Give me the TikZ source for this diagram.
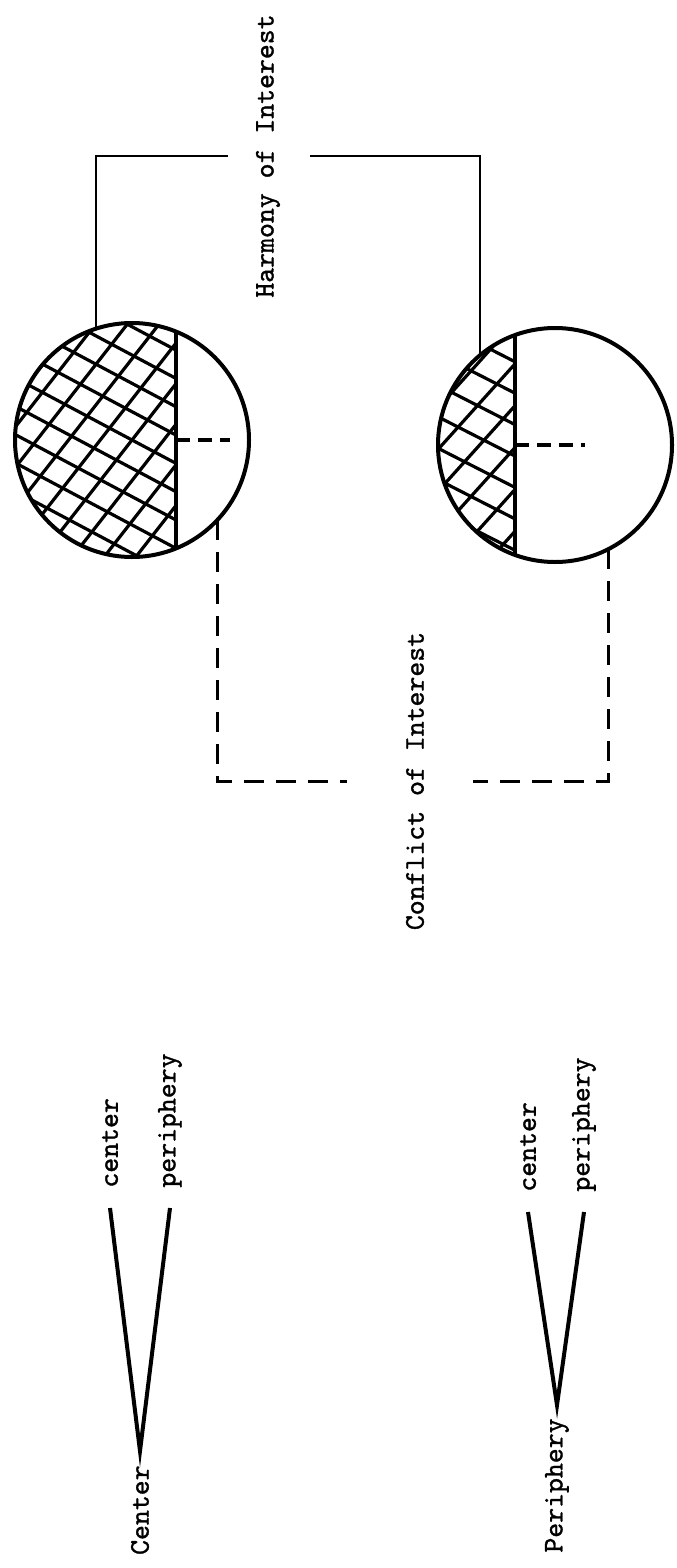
\documentclass[tikz,border=0pt]{standalone}
\usepackage{fontspec}
\newfontfamily\typew{lmmono10-regular.otf}[FakeBold=1.2]
\usetikzlibrary{calc}

\begin{document}
\begin{tikzpicture}[x=0.5pt,y=-0.5pt,
    nation/.style={draw,circle,line width=2pt,minimum size=117pt,inner sep=0pt,outer sep=0pt},
    word/.style={font=\typew\fontsize{14.2}{16}\selectfont,rotate=90,inner sep=0pt},
    hatch/.style={line width=1.6pt},
    chord/.style={line width=2pt},
    stub/.style={line width=1.6pt,dash pattern=on 7pt off 4pt},
    harmline/.style={line width=1.2pt},
    confline/.style={line width=1.5pt,dash pattern=on 10pt off 6pt},
    vline/.style={line width=2pt}]
  \useasboundingbox (0,0) rectangle (676,1568);
  \node[nation] (cen) at (132,440) {};
  \node[nation] (per) at (555,445) {};
  \begin{scope}
    \clip (cen.center) circle (58.5pt);
    \clip (0,0) rectangle (176,1000);
    \foreach \a in {-28,52}
      \foreach \k in {-6,...,6}
        \draw[hatch,shift={(cen.center)},rotate=\a] (-130,\k*25) -- (130,\k*25);
  \end{scope}
  \begin{scope}
    \clip (per.center) circle (58.5pt);
    \clip (0,0) rectangle (515,1000);
    \foreach \a in {-27,48}
      \foreach \k in {-6,...,6}
        \draw[hatch,shift={(per.center)},rotate=\a] (-130,\k*28) -- (130,\k*28);
  \end{scope}
  \draw[chord] (cen.68) -- (cen.-68);
  \draw[chord] (per.110) -- (per.-110);
  \draw[stub] (cen.68 |- cen.center) -- ++(54,0);
  \draw[stub] (per.110 |- per.center) -- ++(70,0);

  \node[word] (harm) at (268,156) {Harmony of Interest};
  \node[word] (conf) at (415,781) {Conflict of Interest};
  \draw[harmline] (cen.108) |- ([xshift=-20pt]harm.center);
  \draw[harmline] (per.130) |- ([xshift=21pt]harm.center);
  \draw[confline] (cen.-43) |- ([xshift=-34pt]conf.center);
  \draw[confline] (per.-63) |- ([xshift=29pt]conf.center);

  \node[word,anchor=east,inner xsep=7pt] (cn) at (140,1451) {Center};
  \node[word,anchor=west,inner xsep=10pt] (lc) at (110,1208) {center};
  \node[word,anchor=west,inner xsep=10pt] (lp) at (170,1208) {periphery};
  \draw[vline] (lc.west) -- (cn.east) -- (lp.west);

  \node[word,anchor=east,inner xsep=6.5pt] (pn) at (557,1405) {Periphery};
  \node[word,anchor=west,inner xsep=10pt] (rc) at (528,1212) {center};
  \node[word,anchor=west,inner xsep=10pt] (rp) at (584,1212) {periphery};
  \draw[vline] (rc.west) -- (pn.east) -- (rp.west);
\end{tikzpicture}
\end{document}
